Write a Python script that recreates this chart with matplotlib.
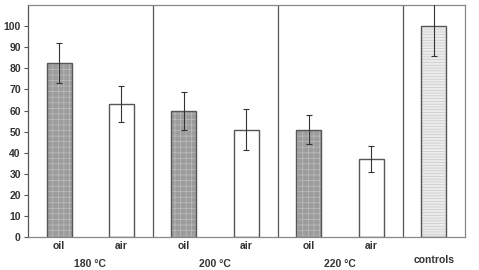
import numpy as np
import matplotlib
matplotlib.use("Agg")
import matplotlib.pyplot as plt

plt.rcParams["font.family"] = ["Liberation Sans", "DejaVu Sans"]
plt.rcParams["hatch.linewidth"] = 0.5

# data
bar_labels = ["oil", "air", "oil", "air", "oil", "air", "controls"]
group_labels = ["180 °C", "200 °C", "220 °C"]
means = [82.5, 63, 60, 51, 51, 37, 100]
errors = [9.5, 8.5, 9, 9.5, 7, 6, 14]
kinds = ["oil", "air", "oil", "air", "oil", "air", "ctrl"]

fills = {"oil": "#9c9c9c", "air": "white", "ctrl": "#ececec"}
hatches = {"oil": "+++", "air": None, "ctrl": "------"}
hatch_cols = {"oil": "#bdbdbd", "air": "white", "ctrl": "#c8c8c8"}

fig = plt.figure(figsize=(4.79, 2.70), dpi=100)
ax = fig.add_axes([0.058, 0.122, 0.913, 0.859])

x = np.arange(len(means))
for xi, m, k in zip(x, means, kinds):
    ax.bar(xi, m, width=0.4, color=fills[k], hatch=hatches[k],
           edgecolor=hatch_cols[k], linewidth=0, zorder=2)
    ax.bar(xi, m, width=0.4, color="none", edgecolor="#555555",
           linewidth=1.0, zorder=3)
ax.errorbar(x, means, yerr=errors, fmt="none", ecolor="#333333",
            elinewidth=0.8, capsize=2, capthick=0.8, zorder=4)

for sep in [1.5, 3.5, 5.5]:
    ax.axvline(sep, color="#555555", linewidth=0.9, zorder=1)

ax.set_xlim(-0.5, 6.5)
ax.set_ylim(0, 110)
ax.set_yticks(np.arange(0, 101, 10))
ax.set_xticks(x[:6])
ax.set_xticklabels(bar_labels[:6])
ax.tick_params(axis="y", direction="out", length=3, width=0.8,
               color="#555555", labelsize=7.5, pad=2)
ax.tick_params(axis="x", length=0, labelsize=7.5, pad=3)
for lab in ax.get_yticklabels() + ax.get_xticklabels():
    lab.set_fontweight("bold")
    lab.set_color("#333333")

for i, g in enumerate(group_labels):
    ax.text(2 * i + 0.5, -10.5, g, ha="center", va="top", fontsize=7.5,
            fontweight="bold", color="#333333")
ax.text(6, -8.5, bar_labels[6], ha="center", va="top", fontsize=7.5,
        fontweight="bold", color="#333333")

for s in ax.spines.values():
    s.set_color("#888888")
    s.set_linewidth(0.9)
ax.spines["left"].set_color("#555555")

fig.savefig("out.png", dpi=100)
